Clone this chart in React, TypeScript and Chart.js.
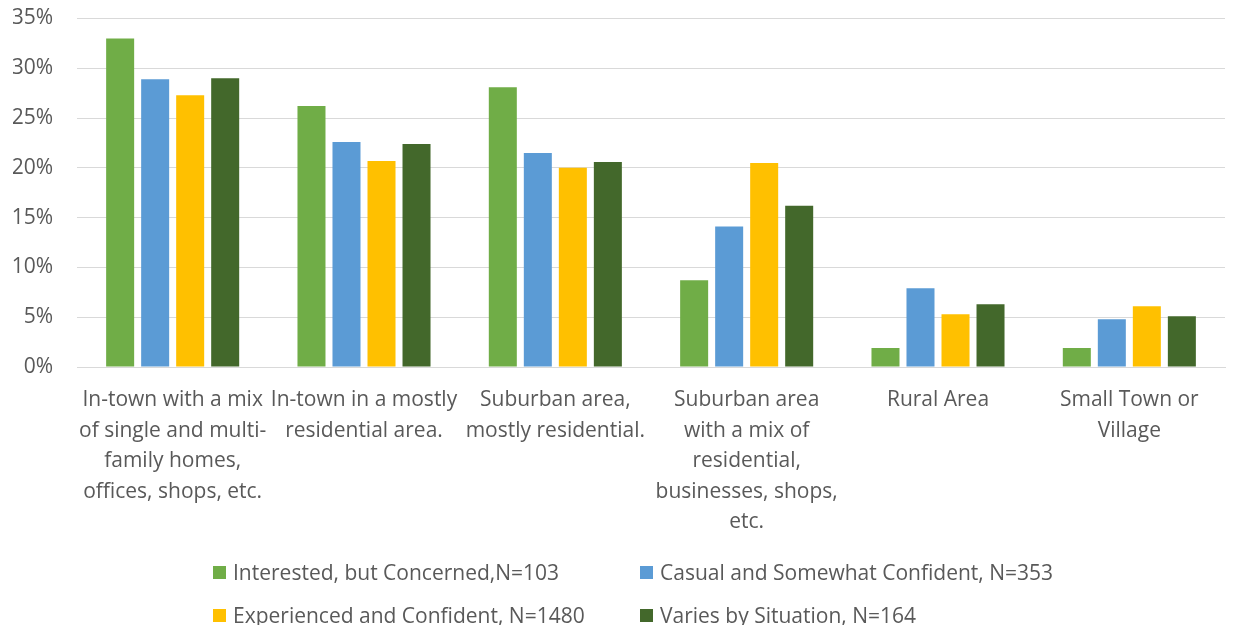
import React, { useEffect, useRef } from "react";
import { Chart, registerables } from "chart.js";

Chart.register(...registerables);

const categories: string[][] = [
  ["In-town with a mix", "of single and multi-", "family homes,", "offices, shops, etc."],
  ["In-town in a mostly", "residential area."],
  ["Suburban area,", "mostly residential."],
  ["Suburban area", "with a mix of", "residential,", "businesses, shops,", "etc."],
  ["Rural Area"],
  ["Small Town or", "Village"],
];

const seriesNames = [
  "Interested, but Concerned,N=103",
  "Casual and Somewhat Confident, N=353",
  "Experienced and Confident, N=1480",
  "Varies by Situation, N=164",
];

const interested = [33.0, 26.2, 28.1, 8.7, 1.9, 1.9];
const casual = [28.9, 22.6, 21.5, 14.1, 7.9, 4.8];
const experienced = [27.3, 20.7, 20.0, 20.5, 5.3, 6.1];
const varies = [29.0, 22.4, 20.6, 16.2, 6.3, 5.1];

const seriesColors = ["#70AD47", "#5B9BD5", "#FFC000", "#43682B"];

const yTicks = [0, 5, 10, 15, 20, 25, 30, 35];

const FONT = "'Open Sans', 'Noto Sans', sans-serif";
const TEXT = "#595959";
const GRID = "#d9d9d9";

export default function App() {
  const ref = useRef<HTMLCanvasElement | null>(null);

  useEffect(() => {
    if (!ref.current) return;
    const values = [interested, casual, experienced, varies];
    const chart = new Chart(ref.current, {
      type: "bar",
      data: {
        labels: categories,
        datasets: values.map((v, i) => ({
          label: seriesNames[i],
          data: v,
          backgroundColor: seriesColors[i],
          borderWidth: 0,
          categoryPercentage: 0.732,
          barPercentage: 0.8,
        })),
      },
      options: {
        animation: false,
        responsive: false,
        devicePixelRatio: 1,
        layout: { padding: { left: 5, right: 8, top: 0, bottom: 0 } },
        plugins: {
          legend: { display: false },
          tooltip: { enabled: false },
        },
        scales: {
          x: {
            grid: { display: false, drawTicks: false },
            border: { display: true, color: GRID, width: 1 },
            ticks: {
              color: TEXT,
              padding: 18,
              maxRotation: 0,
              autoSkip: false,
              font: { family: FONT, size: 21, lineHeight: 1.45 },
            },
            afterFit: (s: any) => {
              s.height = 258;
            },
          },
          y: {
            min: 0,
            max: 35,
            afterBuildTicks: (s: any) => {
              s.ticks = yTicks.map((v) => ({ value: v }));
            },
            grid: {
              color: GRID,
              lineWidth: 1,
              drawTicks: true,
              tickLength: 24,
              tickColor: "rgba(0,0,0,0)",
            },
            border: { display: false },
            ticks: {
              color: TEXT,
              padding: 0,
              font: { family: FONT, size: 21, lineHeight: 1 },
              callback: (v: any) => `${v}%`,
            },
            afterFit: (s: any) => {
              s.width = 64;
            },
          },
        },
      },
    });
    return () => chart.destroy();
  }, []);

  const legendRows = [
    [0, 1],
    [2, 3],
  ];
  const colLeft = [205, 632];
  const rowTop = [549, 592];

  return (
    <div style={{ position: "relative", width: 1225, height: 617 }}>
      <canvas ref={ref} width={1225} height={617} style={{ display: "block" }} />
      {legendRows.map((row, r) =>
        row.map((si, c) => (
          <div
            key={si}
            style={{
              position: "absolute",
              left: colLeft[c],
              top: rowTop[r],
              height: 30,
              display: "flex",
              alignItems: "center",
              fontFamily: FONT,
              fontSize: 21,
              lineHeight: "30px",
              color: TEXT,
              whiteSpace: "nowrap",
            }}
          >
            <span
              style={{
                display: "inline-block",
                width: 13,
                height: 13,
                background: seriesColors[si],
                marginRight: 7,
              }}
            />
            <span>{seriesNames[si]}</span>
          </div>
        ))
      )}
    </div>
  );
}
